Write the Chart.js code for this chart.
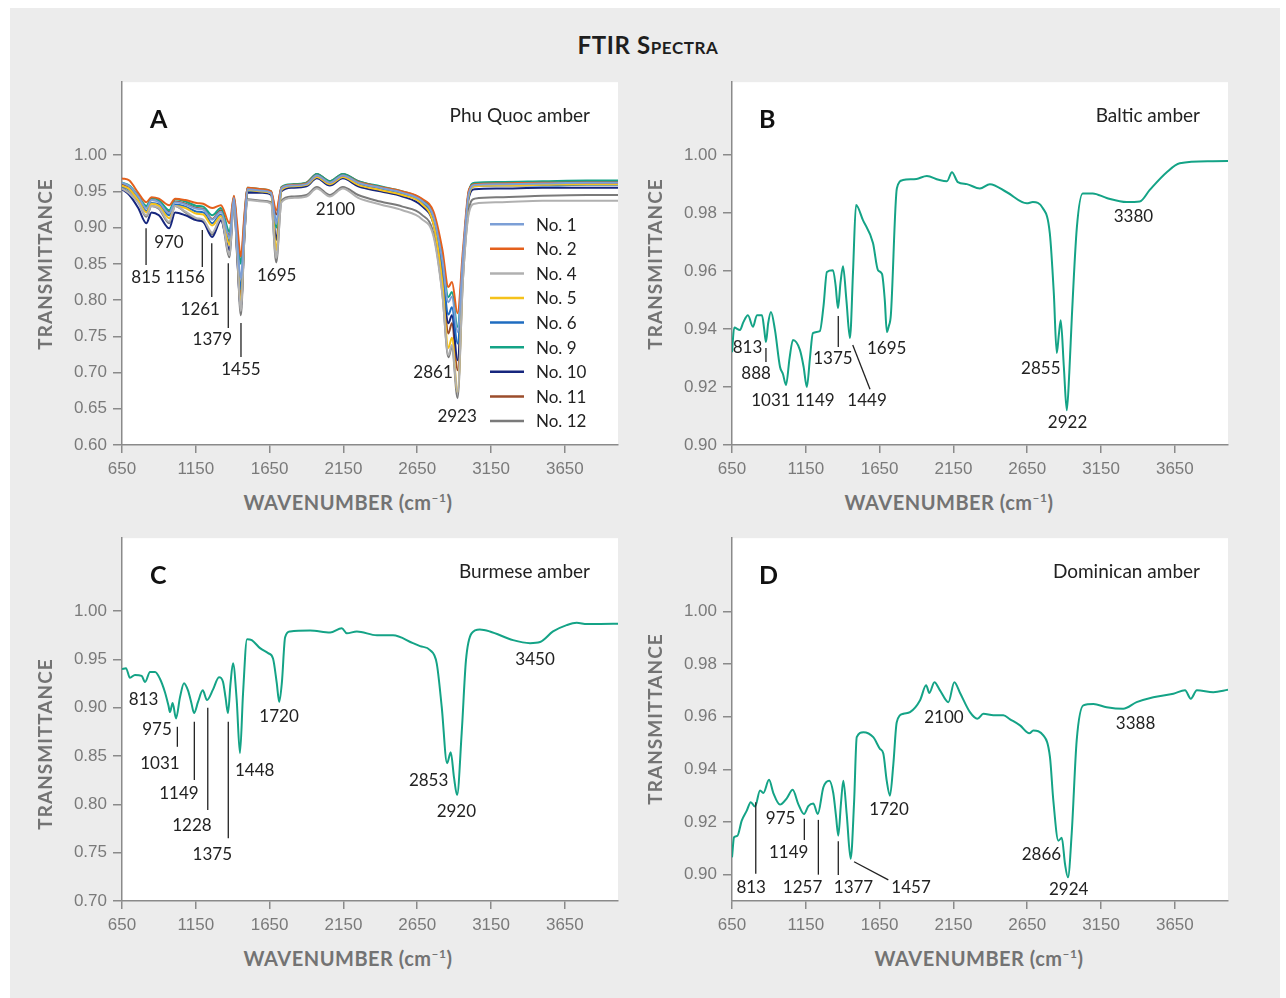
<!DOCTYPE html>
<html lang="en">
<head>
<meta charset="UTF-8">
<title>FTIR Spectra</title>
<script src="https://cdn.jsdelivr.net/npm/chart.js"></script>
<style>
    body {
        margin: 0;
        background: #fff;
        font-family: Lato, "DejaVu Sans", sans-serif;
        width: 1286px;
        height: 998px;
        position: relative;
        overflow: hidden;
    }
    #frame {
        position: absolute;
        left: 10px; top: 8px;
        width: 1270px; height: 990px;
        background: #ececec;
    }
    canvas { position: absolute; z-index: 1; }
    .txt { position: absolute; white-space: nowrap; z-index: 2; }
    #title {
        left: 648px; top: 30px;
        transform: translateX(-50%);
        font-weight: bold; font-size: 24px; color: #1e1e1e;
        font-variant: small-caps; letter-spacing: 0.6px;
    }
    .letter { font-weight: bold; font-size: 25px; color: #111; }
    .sub { font-size: 19px; color: #222; transform: translateX(-100%); }
    .ytitle {
        font-weight: bold; font-size: 19px; color: #737373; letter-spacing: 1px;
        transform: translate(-50%, -50%) rotate(-90deg);
    }
    .xtitle {
        font-weight: bold; font-size: 20px; color: #737373; letter-spacing: 0.5px;
        transform: translate(-50%, -50%);
    }
    .xtitle sup { font-size: 12px; }
</style>
</head>
<body>
<div id="frame"></div>
<div class="txt" id="title">FTIR Spectra</div>

<canvas id="chartA" width="578" height="424" style="left:50px; top:66px;"></canvas>
<canvas id="chartB" width="578" height="424" style="left:660px; top:66px;"></canvas>
<canvas id="chartC" width="578" height="424" style="left:50px; top:522px;"></canvas>
<canvas id="chartD" width="578" height="424" style="left:660px; top:522px;"></canvas>

<div class="txt letter" style="left:150px; top:103px;">A</div>
<div class="txt letter" style="left:759px; top:103px;">B</div>
<div class="txt letter" style="left:150px; top:559px;">C</div>
<div class="txt letter" style="left:759px; top:559px;">D</div>

<div class="txt sub" style="left:590px; top:103px;">Phu Quoc amber</div>
<div class="txt sub" style="left:1200px; top:103px;">Baltic amber</div>
<div class="txt sub" style="left:590px; top:559px;">Burmese amber</div>
<div class="txt sub" style="left:1200px; top:559px;">Dominican amber</div>

<div class="txt ytitle" style="left:44px; top:264px;">TRANSMITTANCE</div>
<div class="txt ytitle" style="left:654px; top:264px;">TRANSMITTANCE</div>
<div class="txt ytitle" style="left:44px; top:744px;">TRANSMITTANCE</div>
<div class="txt ytitle" style="left:654px; top:719px;">TRANSMITTANCE</div>

<div class="txt xtitle" style="left:348px; top:502px;">WAVENUMBER (cm<sup>–1</sup>)</div>
<div class="txt xtitle" style="left:949px; top:502px;">WAVENUMBER (cm<sup>–1</sup>)</div>
<div class="txt xtitle" style="left:348px; top:958px;">WAVENUMBER (cm<sup>–1</sup>)</div>
<div class="txt xtitle" style="left:979px; top:958px;">WAVENUMBER (cm<sup>–1</sup>)</div>

<script>
// x ticks shared by all panels
const xTicks = [650, 1150, 1650, 2150, 2650, 3150, 3650];

// ---- A: Phu Quoc amber, nine samples ----
const wavenumbersA = [650, 700, 760, 815, 850, 900, 970, 1010, 1080, 1156, 1200, 1261, 1320, 1379, 1408, 1430, 1455, 1480, 1500, 1600, 1660, 1695, 1730, 1800, 1900, 1970, 2058, 2146, 2250, 2400, 2550, 2680, 2760, 2820, 2861, 2885, 2923, 2960, 3000, 3040, 3200, 3500, 3800, 4010];
const no1 = [0.962, 0.957, 0.943, 0.927, 0.938, 0.935, 0.920, 0.935, 0.932, 0.926, 0.925, 0.911, 0.922, 0.886, 0.941, 0.880, 0.830, 0.905, 0.953, 0.951, 0.948, 0.905, 0.954, 0.958, 0.960, 0.972, 0.962, 0.972, 0.962, 0.955, 0.948, 0.937, 0.915, 0.855, 0.797, 0.805, 0.756, 0.860, 0.948, 0.959, 0.960, 0.961, 0.962, 0.962];
const no2 = [0.968, 0.965, 0.948, 0.935, 0.942, 0.940, 0.931, 0.940, 0.938, 0.934, 0.933, 0.927, 0.931, 0.906, 0.944, 0.905, 0.860, 0.920, 0.955, 0.953, 0.950, 0.924, 0.955, 0.959, 0.961, 0.972, 0.962, 0.972, 0.963, 0.956, 0.950, 0.940, 0.922, 0.870, 0.818, 0.825, 0.782, 0.870, 0.952, 0.960, 0.961, 0.962, 0.962, 0.962];
const no4 = [0.954, 0.947, 0.934, 0.917, 0.930, 0.927, 0.908, 0.930, 0.922, 0.913, 0.911, 0.893, 0.913, 0.862, 0.938, 0.868, 0.785, 0.892, 0.938, 0.936, 0.933, 0.858, 0.935, 0.941, 0.943, 0.954, 0.943, 0.954, 0.941, 0.932, 0.924, 0.912, 0.888, 0.808, 0.724, 0.738, 0.672, 0.830, 0.920, 0.933, 0.935, 0.937, 0.937, 0.937];
const no5 = [0.958, 0.953, 0.938, 0.921, 0.933, 0.930, 0.913, 0.930, 0.927, 0.919, 0.918, 0.903, 0.916, 0.876, 0.940, 0.870, 0.793, 0.895, 0.952, 0.950, 0.947, 0.869, 0.952, 0.957, 0.959, 0.970, 0.960, 0.970, 0.959, 0.952, 0.945, 0.933, 0.905, 0.825, 0.734, 0.748, 0.673, 0.840, 0.945, 0.957, 0.958, 0.959, 0.960, 0.960];
const no6 = [0.957, 0.952, 0.940, 0.923, 0.934, 0.932, 0.917, 0.932, 0.929, 0.922, 0.921, 0.906, 0.918, 0.880, 0.940, 0.875, 0.815, 0.900, 0.951, 0.950, 0.947, 0.906, 0.953, 0.957, 0.959, 0.970, 0.960, 0.970, 0.960, 0.953, 0.946, 0.934, 0.910, 0.845, 0.780, 0.790, 0.740, 0.855, 0.946, 0.957, 0.958, 0.958, 0.959, 0.959];
const no9 = [0.962, 0.958, 0.944, 0.930, 0.941, 0.938, 0.924, 0.939, 0.936, 0.930, 0.929, 0.917, 0.927, 0.894, 0.943, 0.895, 0.850, 0.915, 0.955, 0.953, 0.950, 0.900, 0.956, 0.960, 0.962, 0.974, 0.964, 0.974, 0.964, 0.957, 0.950, 0.939, 0.918, 0.860, 0.804, 0.811, 0.763, 0.860, 0.950, 0.962, 0.963, 0.964, 0.965, 0.965];
const no10 = [0.953, 0.945, 0.927, 0.906, 0.921, 0.917, 0.899, 0.921, 0.917, 0.910, 0.908, 0.887, 0.910, 0.869, 0.938, 0.860, 0.790, 0.890, 0.948, 0.948, 0.945, 0.883, 0.950, 0.955, 0.957, 0.968, 0.958, 0.968, 0.957, 0.950, 0.943, 0.930, 0.905, 0.835, 0.768, 0.779, 0.717, 0.845, 0.942, 0.953, 0.954, 0.955, 0.955, 0.955];
const no11 = [0.960, 0.956, 0.942, 0.928, 0.938, 0.936, 0.922, 0.936, 0.933, 0.927, 0.926, 0.912, 0.924, 0.888, 0.942, 0.885, 0.800, 0.905, 0.954, 0.952, 0.949, 0.918, 0.955, 0.959, 0.962, 0.974, 0.964, 0.974, 0.964, 0.956, 0.949, 0.937, 0.912, 0.840, 0.754, 0.768, 0.703, 0.850, 0.950, 0.961, 0.962, 0.963, 0.964, 0.964];
const no12 = [0.955, 0.948, 0.935, 0.915, 0.930, 0.926, 0.906, 0.930, 0.921, 0.911, 0.909, 0.890, 0.912, 0.859, 0.938, 0.865, 0.779, 0.890, 0.939, 0.937, 0.935, 0.852, 0.937, 0.943, 0.945, 0.956, 0.945, 0.956, 0.945, 0.936, 0.929, 0.918, 0.892, 0.810, 0.721, 0.735, 0.665, 0.830, 0.925, 0.940, 0.942, 0.944, 0.945, 0.945];
const sampleNames = ["No. 1", "No. 2", "No. 4", "No. 5", "No. 6", "No. 9", "No. 10", "No. 11", "No. 12"];
const sampleColors = ["#7c9fd6", "#e4601c", "#b0b0b0", "#f5c21b", "#1f6cc0", "#14a386", "#16267e", "#9b4d2b", "#7a7a7a"];
const yTicksA = [0.60, 0.65, 0.70, 0.75, 0.80, 0.85, 0.90, 0.95, 1.00];

// ---- B: Baltic amber ----
const wavenumbersB = [650, 665, 704, 727, 758, 792, 819, 853, 868, 880, 895, 914, 941, 975, 995, 1016, 1040, 1063, 1110, 1135, 1157, 1178, 1198, 1245, 1270, 1293, 1334, 1352, 1368, 1385, 1402, 1425, 1449, 1470, 1490, 1537, 1605, 1639, 1666, 1685, 1699, 1712, 1726, 1767, 1808, 1900, 1970, 2050, 2106, 2140, 2180, 2241, 2329, 2397, 2512, 2647, 2688, 2756, 2803, 2830, 2850, 2864, 2877, 2898, 2918, 2935, 2952, 2986, 3026, 3094, 3188, 3323, 3412, 3480, 3595, 3683, 3907, 4010];
const balticT = [0.9320, 0.9405, 0.9397, 0.9424, 0.9448, 0.9408, 0.9448, 0.9448, 0.9400, 0.9355, 0.9420, 0.9459, 0.9397, 0.9270, 0.9245, 0.9207, 0.9300, 0.9362, 0.9328, 0.9270, 0.9200, 0.9300, 0.9386, 0.9393, 0.9480, 0.9597, 0.9603, 0.9550, 0.9472, 0.9560, 0.9617, 0.9500, 0.9369, 0.9600, 0.9828, 0.9776, 0.9697, 0.9603, 0.9590, 0.9500, 0.9390, 0.9410, 0.9448, 0.9886, 0.9914, 0.9918, 0.9928, 0.9915, 0.9910, 0.9941, 0.9907, 0.9900, 0.9885, 0.9900, 0.9872, 0.9834, 0.9838, 0.9817, 0.9730, 0.9524, 0.9317, 0.9380, 0.9430, 0.9270, 0.9120, 0.9250, 0.9440, 0.9750, 0.9868, 0.9868, 0.9852, 0.9838, 0.9840, 0.9880, 0.9941, 0.9972, 0.9979, 0.9980];
const yTicksB = [0.90, 0.92, 0.94, 0.96, 0.98, 1.00];

// ---- C: Burmese amber ----
const wavenumbersC = [650, 677, 704, 738, 783, 806, 840, 874, 907, 941, 965, 975, 993, 1016, 1043, 1070, 1097, 1120, 1138, 1165, 1197, 1226, 1267, 1307, 1334, 1352, 1368, 1385, 1402, 1427, 1449, 1470, 1497, 1529, 1585, 1640, 1673, 1698, 1715, 1733, 1755, 1789, 1924, 2060, 2139, 2173, 2241, 2377, 2486, 2621, 2669, 2737, 2782, 2816, 2852, 2877, 2899, 2920, 2951, 2980, 3018, 3074, 3142, 3299, 3414, 3482, 3570, 3662, 3730, 3800, 3978, 4010];
const burmeseT = [0.940, 0.941, 0.931, 0.934, 0.933, 0.9266, 0.937, 0.937, 0.930, 0.916, 0.902, 0.8955, 0.905, 0.889, 0.911, 0.9255, 0.918, 0.905, 0.8945, 0.906, 0.918, 0.908, 0.919, 0.9317, 0.927, 0.910, 0.8945, 0.925, 0.946, 0.908, 0.853, 0.915, 0.971, 0.970, 0.9617, 0.9565, 0.951, 0.926, 0.906, 0.926, 0.973, 0.979, 0.980, 0.978, 0.9824, 0.977, 0.979, 0.975, 0.975, 0.9669, 0.9638, 0.9597, 0.946, 0.9007, 0.8427, 0.854, 0.828, 0.8097, 0.8738, 0.949, 0.977, 0.981, 0.979, 0.970, 0.9669, 0.968, 0.979, 0.9855, 0.988, 0.9866, 0.987, 0.987];
const yTicksC = [0.70, 0.75, 0.80, 0.85, 0.90, 0.95, 1.00];

// ---- D: Dominican amber ----
const wavenumbersD = [650, 664, 686, 716, 750, 777, 806, 840, 862, 901, 930, 975, 1021, 1061, 1099, 1138, 1167, 1201, 1231, 1269, 1309, 1336, 1355, 1370, 1388, 1404, 1427, 1454, 1477, 1495, 1540, 1607, 1652, 1675, 1698, 1720, 1743, 1766, 1811, 1856, 1924, 1965, 1987, 2021, 2059, 2116, 2156, 2195, 2262, 2312, 2353, 2421, 2488, 2534, 2601, 2664, 2691, 2759, 2804, 2827, 2861, 2884, 2906, 2926, 2951, 2985, 3030, 3098, 3188, 3300, 3391, 3504, 3640, 3719, 3758, 3799, 3911, 4010];
const dominicanT = [0.9066, 0.9142, 0.9147, 0.9205, 0.9243, 0.9275, 0.9259, 0.932, 0.931, 0.936, 0.931, 0.9266, 0.929, 0.9322, 0.9268, 0.923, 0.926, 0.927, 0.923, 0.9332, 0.9357, 0.931, 0.922, 0.9148, 0.927, 0.9357, 0.923, 0.906, 0.9275, 0.9522, 0.9541, 0.9522, 0.9478, 0.946, 0.9357, 0.930, 0.942, 0.9579, 0.9611, 0.9617, 0.9662, 0.9719, 0.969, 0.9731, 0.970, 0.9655, 0.9731, 0.969, 0.9617, 0.9592, 0.9611, 0.9605, 0.9605, 0.959, 0.9567, 0.9537, 0.9547, 0.9529, 0.9446, 0.928, 0.9129, 0.914, 0.904, 0.899, 0.9155, 0.951, 0.9643, 0.9648, 0.9636, 0.963, 0.9655, 0.9674, 0.9687, 0.970, 0.9668, 0.970, 0.9693, 0.9702];
const yTicksD = [0.90, 0.92, 0.94, 0.96, 0.98, 1.00];

// peak labels: [wavenumber, transmittance, text], leader lines: [w1, t1, w2, t2]
const peaksA = [[813, 0.8317, "815"], [1077, 0.8317, "1156"], [1180, 0.7876, "1261"], [1262, 0.7462, "1379"], [1456, 0.7048, "1455"], [968, 0.880, "970"], [1698, 0.8345, "1695"], [2096, 0.9255, "2100"], [2757, 0.7007, "2861"], [2920, 0.640, "2923"]];
const leadersA = [[813, 0.8993, 813, 0.8483], [1194, 0.8966, 1194, 0.8455], [1258, 0.8786, 1258, 0.8041], [1370, 0.851, 1370, 0.7614], [1456, 0.7683, 1456, 0.7214]];
const peaksB = [[755, 0.9338, "813"], [813, 0.9245, "888"], [914, 0.9152, "1031"], [1212, 0.9152, "1149"], [1334, 0.9297, "1375"], [1565, 0.9152, "1449"], [1698, 0.9334, "1695"], [3369, 0.979, "3380"], [2742, 0.9263, "2855"], [2923, 0.9077, "2922"]];
const leadersB = [[880, 0.93345, 880, 0.92862], [1370, 0.94448, 1370, 0.93379], [1468, 0.93448, 1585, 0.91921]];
const peaksC = [[796, 0.909, "813"], [887, 0.8776, "975"], [907, 0.8424, "1031"], [1036, 0.8114, "1149"], [1124, 0.7786, "1228"], [1262, 0.7483, "1375"], [1549, 0.8348, "1448"], [1714, 0.8906, "1720"], [2727, 0.8244, "2853"], [2915, 0.7931, "2920"], [3448, 0.950, "3450"]];
const leadersC = [[1025, 0.8803, 1025, 0.8596], [1140, 0.8855, 1140, 0.8252], [1231, 0.900, 1231, 0.7941], [1370, 0.8855, 1370, 0.7649]];
const peaksD = [[780, 0.8952, "813"], [979, 0.9212, "975"], [1034, 0.9085, "1149"], [1128, 0.8952, "1257"], [1473, 0.8952, "1377"], [1863, 0.8952, "1457"], [1714, 0.9246, "1720"], [2086, 0.9598, "2100"], [2746, 0.9076, "2866"], [2931, 0.8942, "2924"], [3384, 0.9575, "3388"]];
const leadersD = [[811, 0.9275, 811, 0.9003], [1140, 0.9212, 1140, 0.9132], [1235, 0.9208, 1235, 0.900], [1370, 0.9127, 1370, 0.8999], [1477, 0.9049, 1709, 0.898]];

const axisGray = "#8a8a8a";
const tickGray = "#7a7a7a";

const peakPlugin = {
    id: "peaks",
    beforeDraw(chart) {
        const a = chart.chartArea;
        const ctx = chart.ctx;
        ctx.save();
        ctx.fillStyle = "#fff";
        ctx.fillRect(a.left, a.top, a.right - a.left, a.bottom - a.top);
        ctx.restore();
    },
    afterDatasetsDraw(chart, args, opts) {
        const ctx = chart.ctx;
        const x = chart.scales.x, y = chart.scales.y;
        ctx.save();
        ctx.strokeStyle = "#222";
        ctx.lineWidth = 1.3;
        (opts.leaders || []).forEach(l => {
            ctx.beginPath();
            ctx.moveTo(x.getPixelForValue(l[0]), y.getPixelForValue(l[1]));
            ctx.lineTo(x.getPixelForValue(l[2]), y.getPixelForValue(l[3]));
            ctx.stroke();
        });
        ctx.font = "17px Lato";
        ctx.fillStyle = "#222";
        ctx.textAlign = "center";
        ctx.textBaseline = "middle";
        (opts.labels || []).forEach(p => {
            ctx.fillText(p[2], x.getPixelForValue(p[0]), y.getPixelForValue(p[1]));
        });
        // hand-drawn legend for panel A
        if (opts.legend) {
            const a = chart.chartArea;
            ctx.textAlign = "left";
            chart.data.datasets.forEach((ds, i) => {
                const yy = a.top + 142 + i * 24.6;
                ctx.strokeStyle = ds.borderColor;
                ctx.lineWidth = 2.5;
                ctx.beginPath();
                ctx.moveTo(a.left + 368, yy);
                ctx.lineTo(a.left + 402, yy);
                ctx.stroke();
                ctx.fillStyle = "#222";
                ctx.fillText(ds.label, a.left + 414, yy + 1);
            });
        }
        ctx.restore();
    }
};

function toPoints(xs, ys) {
    return xs.map((w, i) => ({ x: w, y: ys[i] }));
}

function makeChart(id, datasets, yMin, yMax, yTicks, peaks, leaders, legend) {
    return new Chart(document.getElementById(id), {
        type: "line",
        data: { datasets: datasets },
        plugins: [peakPlugin],
        options: {
            responsive: false,
            animation: false,
            layout: { padding: { top: 8, right: 10, left: 0, bottom: 0 } },
            elements: {
                point: { radius: 0 },
                line: { borderWidth: 2, cubicInterpolationMode: "monotone" }
            },
            plugins: {
                legend: { display: false },
                tooltip: { enabled: false },
                peaks: { labels: peaks, leaders: leaders, legend: legend }
            },
            scales: {
                x: {
                    type: "linear",
                    min: 650,
                    max: 4010,
                    afterBuildTicks: s => { s.ticks = xTicks.map(v => ({ value: v })); },
                    afterFit: s => { s.height = 45; },
                    grid: { drawOnChartArea: false, drawTicks: true, tickLength: 8, color: axisGray, lineWidth: 1.5 },
                    border: { display: true, color: axisGray, width: 1.5 },
                    ticks: {
                        autoSkip: false, maxRotation: 0, padding: 6, color: tickGray,
                        font: { family: "'Liberation Sans', Arial, sans-serif", size: 17 },
                        callback: v => String(v)
                    }
                },
                y: {
                    type: "linear",
                    min: yMin,
                    max: yMax,
                    afterBuildTicks: s => { s.ticks = yTicks.map(v => ({ value: v })); },
                    afterFit: s => { s.width = 72; },
                    grid: { drawOnChartArea: false, drawTicks: true, tickLength: 9, color: axisGray, lineWidth: 1.5 },
                    border: { display: true, color: axisGray, width: 1.5 },
                    ticks: {
                        padding: 6, color: tickGray,
                        font: { family: "'Liberation Sans', Arial, sans-serif", size: 17 },
                        callback: v => v.toFixed(2)
                    }
                }
            }
        }
    });
}

const seriesA = [no1, no2, no4, no5, no6, no9, no10, no11, no12];
const dsA = seriesA.map((vals, i) => ({
    label: sampleNames[i],
    data: toPoints(wavenumbersA, vals),
    borderColor: sampleColors[i],
    borderWidth: 2
}));
const teal = "#14a386";

makeChart("chartA", dsA, 0.60, 1.1007, yTicksA, peaksA, leadersA, true);
makeChart("chartB", [{ label: "Baltic amber", data: toPoints(wavenumbersB, balticT), borderColor: teal }], 0.90, 1.02517, yTicksB, peaksB, leadersB, false);
makeChart("chartC", [{ label: "Burmese amber", data: toPoints(wavenumbersC, burmeseT), borderColor: teal }], 0.70, 1.0755, yTicksC, peaksC, leadersC, false);
makeChart("chartD", [{ label: "Dominican amber", data: toPoints(wavenumbersD, dominicanT), borderColor: teal }], 0.89, 1.02776, yTicksD, peaksD, leadersD, false);
</script>
</body>
</html>
